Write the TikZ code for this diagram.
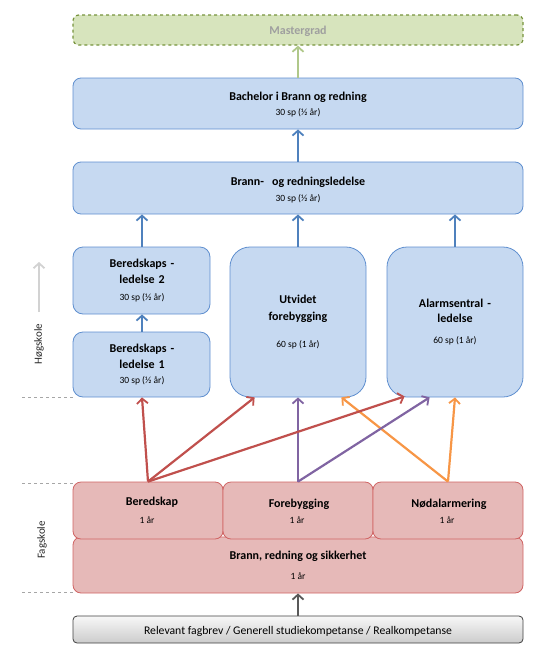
\documentclass[tikz,border=0pt]{standalone}
\usepackage{fontspec}
\setmainfont{Carlito}
\usetikzlibrary{arrows.meta,calc}
\definecolor{bfill}{HTML}{C6D9F1}
\definecolor{bline}{HTML}{5F8FCF}
\definecolor{barrow}{HTML}{4F81BD}
\definecolor{rfill}{HTML}{E6B9B8}
\definecolor{rline}{HTML}{D06464}
\definecolor{rarrow}{HTML}{C0504D}
\definecolor{parrow}{HTML}{8064A2}
\definecolor{oarrow}{HTML}{F79646}
\definecolor{gfill}{HTML}{D7E4BD}
\definecolor{gline}{HTML}{77933C}
\definecolor{garrow}{HTML}{B0C88A}
\definecolor{dgray}{HTML}{595959}
\tikzset{
  box/.style={draw, line width=0.8pt, inner sep=0pt},
  bluebox/.style={box, fill=bfill, draw=bline, rounded corners=8pt},
  bigblue/.style={box, fill=bfill, draw=bline, rounded corners=20pt},
  redbox/.style={box, fill=rfill, draw=rline, rounded corners=8pt},
  ttl/.style={font=\fontsize{12}{16}\selectfont\bfseries, inner sep=0pt, align=center},
  sub/.style={font=\fontsize{9.5}{11}\selectfont, inner sep=0pt},
  arr/.style={line width=2.2pt, -{Straight Barb[length=5pt,width=11pt,line width=1.8pt]}},
  dline/.style={draw=gray!70, dashed, line width=0.5pt},
  side/.style={font=\fontsize{11}{13}\selectfont, inner sep=0pt, rotate=90, text=black!85}
}
\begin{document}
\begin{tikzpicture}[x=1pt,y=-1pt]
\useasboundingbox (0,0) rectangle (550,651);
% boxes
\node[box, fill=gfill, draw=gline, dashed, line width=1.2pt, rounded corners=6pt, minimum width=450, minimum height=30] (mast) at (298,30) {};
\node[font=\fontsize{12}{14}\selectfont\bfseries, text=gray!75] (mastt) at (298,31) {Mastergrad};
\node[bluebox, minimum width=450, minimum height=51] (bach) at (298,103.5) {};
\node[ttl] (bacht) at (298,97) {Bachelor i Brann og redning};
\node[sub] (bachs) at (298,113) {30 sp (½ år)};
\node[bluebox, minimum width=450, minimum height=52] (brl) at (298,188) {};
\node[ttl] (brlt) at (298,182) {Brann-\ \ \ og redningsledelse};
\node[sub] (brls) at (298,199) {30 sp (½ år)};
\node[bluebox, rounded corners=10pt, minimum width=137, minimum height=67] (ber2) at (141.5,280.5) {};
\node[ttl, text width=130] (ber2t) at (142,271) {Beredskaps -\\ledelse 2};
\node[sub] (ber2s) at (142,298) {30 sp (½ år)};
\node[bluebox, rounded corners=10pt, minimum width=137, minimum height=65] (ber1) at (141.5,364.5) {};
\node[ttl, text width=130] (ber1t) at (142,356) {Beredskaps -\\ledelse 1};
\node[sub] (ber1s) at (142,381) {30 sp (½ år)};
\node[bigblue, minimum width=136, minimum height=150] (utv) at (298,322) {};
\node[ttl, text width=130, font=\fontsize{12}{17}\selectfont\bfseries] (utvt) at (298,309) {Utvidet\\forebygging};
\node[sub] (utvs) at (298,345) {60 sp (1 år)};
\node[bigblue, minimum width=136, minimum height=150] (alm) at (455,322) {};
\node[ttl, text width=130, font=\fontsize{12}{15}\selectfont\bfseries] (almt) at (455,311) {Alarmsentral -\\ledelse};
\node[sub] (alms) at (455,341) {60 sp (1 år)};
% fagskole
\node[redbox, minimum width=450, minimum height=56] (brs) at (298,565) {};
\node[ttl] (brst) at (298,556) {Brann, redning og sikkerhet};
\node[sub] (brss) at (298,576) {1 år};
\node[redbox, minimum width=150, minimum height=57] (bered) at (148,510.5) {};
\node[ttl] (beredt) at (152,502) {Beredskap};
\node[sub] (bereds) at (147,520) {1 år};
\node[redbox, minimum width=150, minimum height=57] (fore) at (298,510.5) {};
\node[ttl] (foret) at (299,504) {Forebygging};
\node[sub] (fores) at (297,520) {1 år};
\node[redbox, minimum width=150, minimum height=57] (nod) at (448,510.5) {};
\node[ttl] (nodt) at (449,504) {Nødalarmering};
\node[sub] (nods) at (447,520) {1 år};
% input
\node[box, draw=black!75, rounded corners=4pt, top color=gray!6, bottom color=gray!40, minimum width=450, minimum height=27] (inp) at (298,629.5) {};
\node[font=\fontsize{11.7}{13}\selectfont, inner sep=0pt] (inpt) at (298,631) {Relevant fagbrev / Generell studiekompetanse / Realkompetanse};
% side labels
\node[side] (hog) at (39,344) {Høgskole};
\node[side] (fag) at (42,540) {Fagskole};
\coordinate (hogA) at (39,312);
\coordinate (hogB) at (39,262);
\draw[arr, draw=gray!35] (hogA) -- (hogB);
\coordinate (d1a) at (22,397); \coordinate (d1b) at (73,397);
\coordinate (d2a) at (22,483); \coordinate (d2b) at (73,483);
\coordinate (d3a) at (22,592); \coordinate (d3b) at (73,592);
\draw[dline] (d1a) -- (d1b);
\draw[dline] (d2a) -- (d2b);
\draw[dline] (d3a) -- (d3b);
% arrows
\coordinate (bx) at (142,0);
\draw[arr, draw=garrow] (bach.north) -- (mast.south);
\draw[arr, draw=barrow] (brl.north) -- (bach.south);
\draw[arr, draw=barrow] (bx |- ber2.north) -- (bx |- brl.south);
\draw[arr, draw=barrow] (utv.north) -- (brl.south);
\draw[arr, draw=barrow] (alm.north) -- (alm.north |- brl.south);
\draw[arr, draw=barrow] (bx |- ber1.north) -- (bx |- ber2.south);
\draw[arr, draw=dgray] (inp.north) -- (brs.north |- brs.south);
% cross arrows
\draw[arr, draw=oarrow] (nod.north) -- ($(utv.south east)+(-25,0)$);
\draw[arr, draw=oarrow] (nod.north) -- (alm.south);
\draw[arr, draw=parrow] (fore.north) -- (utv.south);
\draw[arr, draw=parrow] (fore.north) -- ($(alm.south west)+(43,0)$);
\draw[arr, draw=rarrow] (bered.north) -- (bx |- ber1.south);
\draw[arr, draw=rarrow] (bered.north) -- ($(utv.south west)+(25,0)$);
\draw[arr, draw=rarrow] (bered.north) -- ($(alm.south west)+(18,-1)$);
\end{tikzpicture}
\end{document}
